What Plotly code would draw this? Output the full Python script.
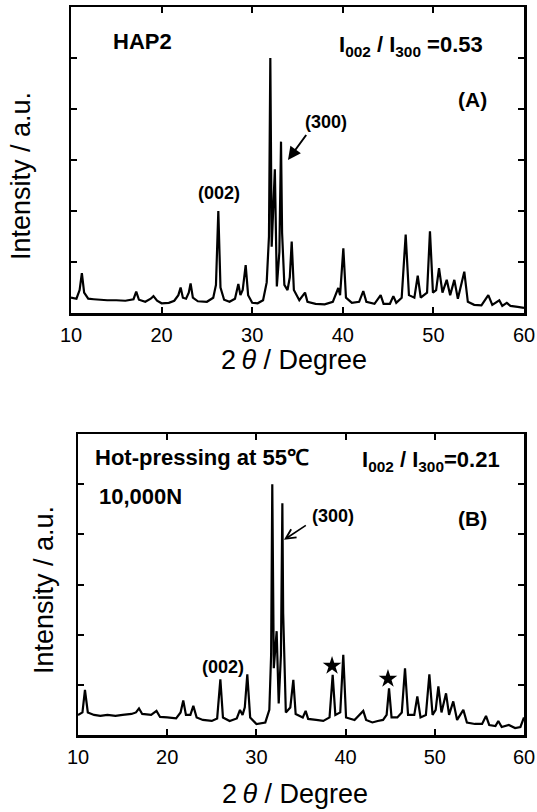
import plotly.graph_objects as go

# ---------------- data ----------------
# Panel A: HAP2
tth_a = [10.0, 10.6, 10.95, 11.2, 11.45, 11.9, 12.5, 13.2, 14.0, 15.0, 16.0, 16.9, 17.2, 17.5,
         18.2, 18.8, 19.1, 19.5, 20.0, 20.8, 21.4, 21.85, 22.1, 22.35, 22.7, 23.0, 23.2, 23.45,
         24.0, 25.0, 25.7, 26.0, 26.26, 26.5, 26.9, 27.5, 28.1, 28.47, 28.7, 28.95, 29.28, 29.55,
         30.0, 30.6, 31.2, 31.6, 31.85, 32.0, 32.15, 32.5, 32.72, 33.0, 33.18, 33.3, 33.55, 33.9,
         34.15, 34.36, 34.6, 35.2, 35.83, 36.1, 37.0, 38.0, 38.9, 39.5, 39.7, 40.06, 40.35, 41.0,
         41.8, 42.26, 42.6, 43.5, 44.18, 44.5, 45.2, 45.58, 45.9, 46.5, 46.94, 47.3, 47.9, 48.27,
         48.6, 49.3, 49.62, 49.95, 50.3, 50.62, 51.0, 51.47, 51.85, 52.31, 52.7, 53.41, 53.8, 54.5,
         55.3, 56.06, 56.5, 57.27, 57.6, 58.1, 58.5, 59.3, 60.0]
int_a = [0.30, 0.28, 0.45, 0.78, 0.40, 0.28, 0.27, 0.26, 0.25, 0.25, 0.24, 0.27, 0.42, 0.26,
         0.22, 0.28, 0.33, 0.24, 0.19, 0.20, 0.24, 0.35, 0.50, 0.30, 0.28, 0.40, 0.58, 0.30,
         0.23, 0.22, 0.30, 0.55, 2.00, 0.50, 0.26, 0.22, 0.28, 0.57, 0.35, 0.45, 0.94, 0.35,
         0.20, 0.19, 0.25, 0.60, 1.50, 5.00, 1.30, 2.82, 0.52, 1.20, 3.36, 1.57, 0.55, 0.45,
         0.70, 1.40, 0.45, 0.25, 0.40, 0.22, 0.18, 0.17, 0.22, 0.49, 0.35, 1.27, 0.30, 0.20,
         0.22, 0.43, 0.22, 0.18, 0.35, 0.18, 0.18, 0.33, 0.20, 0.30, 1.54, 0.35, 0.30, 0.73,
         0.30, 0.40, 1.60, 0.40, 0.45, 0.88, 0.40, 0.65, 0.35, 0.65, 0.28, 0.81, 0.22, 0.16,
         0.15, 0.35, 0.16, 0.25, 0.14, 0.20, 0.14, 0.12, 0.10]

# Panel B: hot-pressed at 55 C, 10,000 N
tth_b = [10.0, 10.5, 10.78, 11.1, 11.8, 12.5, 13.3, 14.2, 15.0, 16.0, 16.5, 16.84, 17.2, 18.2,
         18.8, 19.2, 20.0, 21.0, 21.5, 21.8, 22.1, 22.6, 22.93, 23.3, 24.0, 25.0, 25.6, 25.96,
         26.25, 27.0, 27.8, 28.16, 28.45, 28.7, 28.98, 29.3, 30.0, 31.0, 31.45, 31.65, 31.78,
         31.95, 32.27, 32.5, 32.75, 32.91, 33.0, 33.3, 33.8, 34.14, 34.4, 35.2, 35.52, 35.8,
         36.7, 37.5, 38.2, 38.55, 38.85, 39.4, 39.74, 40.05, 41.0, 41.98, 42.3, 43.0, 43.6,
         44.2, 44.6, 44.87, 45.15, 45.8, 46.3, 46.66, 47.0, 47.7, 48.04, 48.4, 49.0, 49.39,
         49.75, 50.1, 50.4, 50.75, 51.26, 51.6, 52.07, 52.5, 53.2, 53.6, 54.5, 55.3, 55.74,
         56.1, 56.8, 57.12, 57.5, 58.3, 59.0, 59.6, 60.0]
int_b = [0.40, 0.45, 0.90, 0.45, 0.40, 0.38, 0.40, 0.38, 0.40, 0.42, 0.45, 0.53, 0.42, 0.40,
         0.48, 0.36, 0.35, 0.33, 0.45, 0.69, 0.40, 0.40, 0.58, 0.35, 0.30, 0.28, 0.33, 1.11,
         0.35, 0.28, 0.33, 0.50, 0.40, 0.55, 1.21, 0.35, 0.22, 0.25, 0.50, 1.60, 5.00,
         1.33, 2.07, 0.63, 1.60, 4.62, 2.43, 0.45, 0.55, 1.10, 0.42, 0.35, 0.48, 0.32,
         0.30, 0.28, 0.35, 1.20, 0.40, 0.45, 1.60, 0.35, 0.30, 0.48, 0.30, 0.25, 0.28,
         0.30, 0.40, 0.93, 0.35, 0.35, 0.45, 1.33, 0.40, 0.40, 0.77, 0.35, 0.40, 1.21,
         0.40, 0.50, 0.97, 0.45, 0.83, 0.40, 0.67, 0.30, 0.50, 0.25, 0.22, 0.22, 0.38,
         0.20, 0.18, 0.28, 0.16, 0.20, 0.14, 0.16, 0.35]

# Impurity peaks marked with stars in panel B
star_x = [38.48, 44.75]
star_y = [1.38, 1.12]

x_ticks = [10, 20, 30, 40, 50, 60]
x_ticklabels = ["10", "20", "30", "40", "50", "60"]

# ---------------- figure ----------------
W, H = 537, 812
FONT = "Liberation Sans, Arial, Helvetica, sans-serif"


def px(x):
    return x / W


def py(y):
    return 1 - y / H


fig = go.Figure()
fig.add_trace(go.Scatter(x=tth_a, y=int_a, mode="lines", line=dict(color="black", width=2.2),
                         xaxis="x", yaxis="y", showlegend=False, hoverinfo="skip"))
fig.add_trace(go.Scatter(x=tth_b, y=int_b, mode="lines", line=dict(color="black", width=2.2),
                         xaxis="x2", yaxis="y2", showlegend=False, hoverinfo="skip"))
fig.add_trace(go.Scatter(x=star_x, y=star_y, mode="markers",
                         marker=dict(symbol="star", size=14, color="black"),
                         xaxis="x2", yaxis="y2", showlegend=False, hoverinfo="skip"))

xcommon = dict(range=[10, 60], tickvals=x_ticks, ticktext=x_ticklabels, ticks="inside",
               ticklen=6, tickwidth=2, tickcolor="black", showline=True, linewidth=2.5,
               linecolor="black", mirror="ticks", showgrid=False, zeroline=False,
               automargin=False,
               tickfont=dict(family=FONT, size=20, color="black"), ticklabelstandoff=2)
ycommon = dict(range=[0, 6], dtick=1, tick0=0, ticks="inside", ticklen=6, tickwidth=2,
               tickcolor="black", showline=True, linewidth=2.5, linecolor="black",
               mirror="ticks", showgrid=False, zeroline=False, showticklabels=False,
               automargin=False)

fig.update_layout(
    template="none",
    width=W, height=H, margin=dict(l=0, r=0, t=0, b=0, pad=0, autoexpand=False),
    paper_bgcolor="white", plot_bgcolor="white",
    xaxis=dict(domain=[px(71), px(524)], anchor="y", **xcommon),
    yaxis=dict(domain=[py(313), py(7)], anchor="x", **ycommon),
    xaxis2=dict(domain=[px(78), px(524)], anchor="y2", **xcommon),
    yaxis2=dict(domain=[py(735), py(434)], anchor="x2", **ycommon),
    font=dict(family=FONT, color="black"),
    showlegend=False,
)

anns = []


def pann(text, x, y, size, xanchor="center", angle=0):
    anns.append(dict(text=text, x=px(x), y=py(y), xref="paper", yref="paper", showarrow=False,
                     xanchor=xanchor, yanchor="middle", textangle=angle,
                     font=dict(family=FONT, size=size, color="black")))


# axis titles
pann("2\u2009<i>θ</i> / Degree", 294, 360, 27)
pann("2\u2009<i>θ</i> / Degree", 295, 794, 27)
pann("Intensity / a.u.", 21, 176, 27, angle=-90)
pann("Intensity / a.u.", 44, 590, 27, angle=-90)

# panel A texts
pann("<b>HAP2</b>", 142, 42, 22)
pann("<b>I<sub>002</sub> / I<sub>300</sub> =0.53</b>", 411, 46, 22)
pann("<b>(A)</b>", 472, 100, 21)

# panel B texts
pann("<b>Hot-pressing at 55℃</b>", 93, 457, 22, xanchor="left")
pann("<b>10,000N</b>", 97, 497, 22, xanchor="left")
pann("<b>I<sub>002</sub> / I<sub>300</sub>=0.21</b>", 431, 461, 22)
pann("<b>(B)</b>", 472, 518, 21)

# peak labels in data coordinates
for (t, x, y, xr, yr) in [("(002)", 26.39, 2.35, "x", "y"), ("(300)", 38.15, 3.75, "x", "y"),
                          ("(002)", 26.26, 1.36, "x2", "y2"), ("(300)", 38.59, 4.36, "x2", "y2")]:
    anns.append(dict(text="<b>" + t + "</b>", x=x, y=y, xref=xr, yref=yr, showarrow=False,
                     font=dict(family=FONT, size=18, color="black")))

# arrows pointing to the (300) reflections
anns.append(dict(text="", x=33.95, y=3.0, ax=36.08, ay=3.52, xref="x", yref="y",
                 axref="x", ayref="y", showarrow=True, arrowhead=2, arrowsize=1.3,
                 arrowwidth=2, arrowcolor="black"))
anns.append(dict(text="", x=33.09, y=3.89, ax=35.71, ay=4.2, xref="x2", yref="y2",
                 axref="x2", ayref="y2", showarrow=True, arrowhead=5, arrowsize=1.2,
                 arrowwidth=1.6, arrowcolor="black"))

fig.update_layout(annotations=anns)
fig.write_html(
    "out.html",
    config={"displayModeBar": False, "staticPlot": True},
    post_script="document.body.style.margin='0px';"
                "document.documentElement.style.overflow='hidden';",
)
